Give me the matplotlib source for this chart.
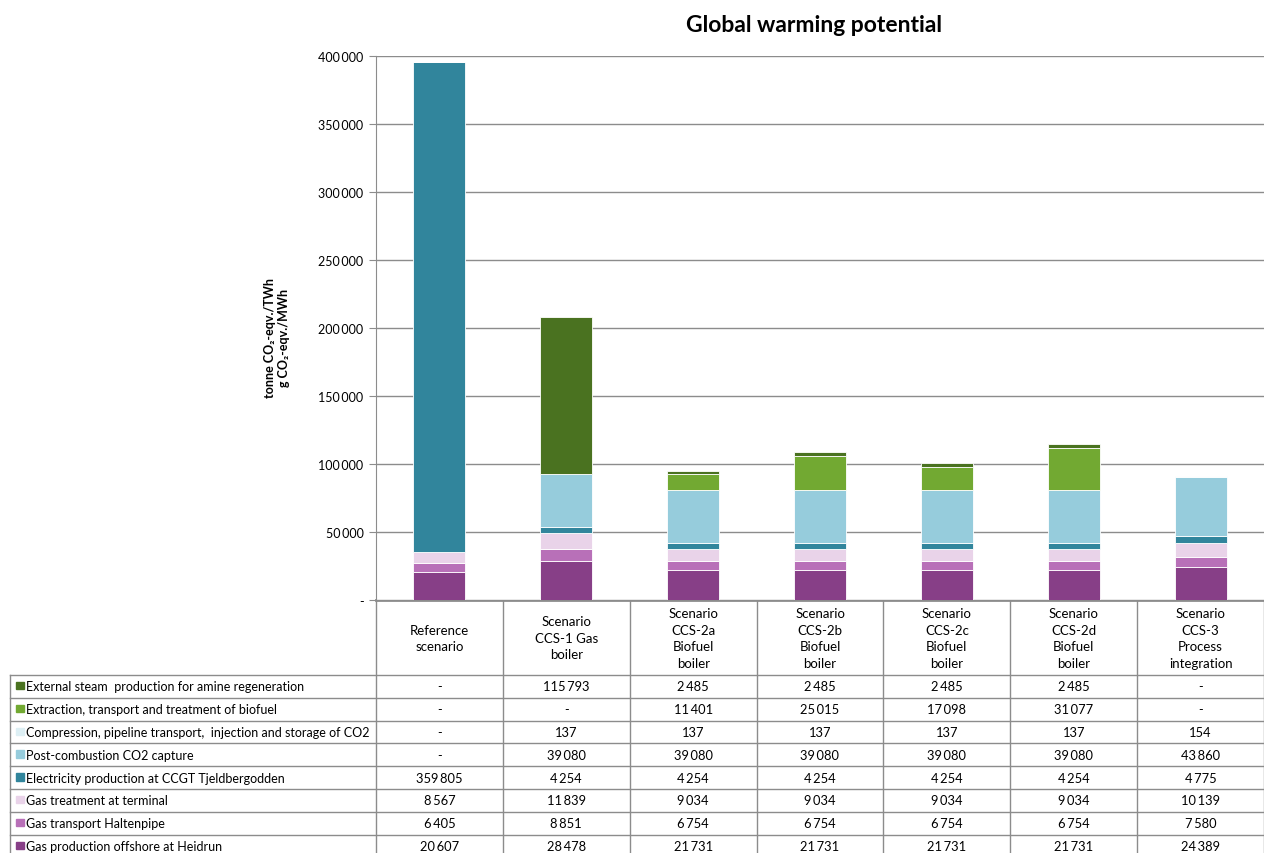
import matplotlib
matplotlib.use('Agg')
import matplotlib.pyplot as plt
import numpy as np

plt.rcParams['font.family'] = ['Lato', 'DejaVu Sans']

# Scenarios (columns)
scenarios = ['Reference\nscenario', 'Scenario\nCCS-1 Gas\nboiler',
             'Scenario\nCCS-2a\nBiofuel\nboiler', 'Scenario\nCCS-2b\nBiofuel\nboiler',
             'Scenario\nCCS-2c\nBiofuel\nboiler', 'Scenario\nCCS-2d\nBiofuel\nboiler',
             'Scenario\nCCS-3\nProcess\nintegration']

# Series, bottom of the stack first
gas_production = [20607, 28478, 21731, 21731, 21731, 21731, 24389]
gas_transport = [6405, 8851, 6754, 6754, 6754, 6754, 7580]
gas_treatment = [8567, 11839, 9034, 9034, 9034, 9034, 10139]
electricity = [359805, 4254, 4254, 4254, 4254, 4254, 4775]
co2_capture = [0, 39080, 39080, 39080, 39080, 39080, 43860]
co2_storage = [0, 137, 137, 137, 137, 137, 154]
biofuel = [0, 0, 11401, 25015, 17098, 31077, 0]
ext_steam = [0, 115793, 2485, 2485, 2485, 2485, 0]

series = [
    ('Gas production offshore at Heidrun', gas_production, '#873F87'),
    ('Gas transport Haltenpipe', gas_transport, '#B870B8'),
    ('Gas treatment at terminal', gas_treatment, '#E9D3E9'),
    ('Electricity production at CCGT Tjeldbergodden', electricity, '#31859C'),
    ('Post-combustion CO2 capture', co2_capture, '#96CCDC'),
    ('Compression, pipeline transport,  injection and storage of CO2', co2_storage, '#DDEFF4'),
    ('Extraction, transport and treatment of biofuel', biofuel, '#72A932'),
    ('External steam  production for amine regeneration', ext_steam, '#4A7220'),
]

W, H = 1264, 854
fig = plt.figure(figsize=(W / 100, H / 100), dpi=100)

# pixel layout
x0, x1 = 376, 1264
y_top, y_base = 57, 601
ax = fig.add_axes([x0 / W, (H - y_base) / H, (x1 - x0) / W, (y_base - y_top) / H])

n = len(scenarios)
xs = np.arange(n)
bottom = np.zeros(n)
for name, vals, col in series:
    ax.bar(xs, vals, bottom=bottom, width=0.41, color=col, edgecolor='white', linewidth=0.6, zorder=3)
    bottom += np.array(vals)

ax.set_xlim(-0.5, n - 0.5)
ax.set_ylim(0, 400000)
ax.set_yticks(np.arange(0, 400001, 50000))

def fmt(v):
    v = int(round(v))
    if v == 0:
        return '-'
    return f'{v:,}'.replace(',', '\u2009')

ax.set_yticklabels([fmt(v) for v in ax.get_yticks()], fontsize=9)
ax.set_xticks([])
ax.grid(axis='y', color='#8c8c8c', linewidth=1.0, zorder=0)
for s in ['top', 'right', 'bottom']:
    ax.spines[s].set_visible(False)
ax.spines['left'].set_color('#8c8c8c')
ax.tick_params(axis='y', length=5, color='#8c8c8c', pad=4)

fig.text(814 / W, 1 - 25 / H, 'Global warming potential', ha='center', va='center',
         fontsize=16.5, fontweight='bold')
fig.text(277 / W, 1 - 338 / H, 'tonne CO\u2082-eqv./TWh\ng CO\u2082-eqv./MWh', ha='center',
         va='center', rotation=90, fontsize=9, fontweight='bold', linespacing=1.1)

# table drawn in pixel space
tb = fig.add_axes([0, 0, 1, 1], zorder=-1)
tb.set_xlim(0, W)
tb.set_ylim(H, 0)
tb.axis('off')
lc = '#8c8c8c'
colw = (x1 - x0) / n
row_top = 676
row_h = 22.8
tb.plot([x0, x1], [y_base, y_base], color=lc, lw=2)
for i in range(n + 1):
    xv = x0 + i * colw
    tb.plot([xv, xv], [y_base, H], color=lc, lw=1)
tb.plot([10, 10], [row_top, H], color=lc, lw=1)
rows = series[::-1]
for r in range(len(rows) + 1):
    yv = row_top + r * row_h
    tb.plot([10, x1], [yv, yv], color=lc, lw=1)
for i, lab in enumerate(scenarios):
    tb.text(x0 + (i + 0.5) * colw, 639, lab, ha='center', va='center', fontsize=9.5, linespacing=1.45)
for r, (name, vals, col) in enumerate(rows):
    yc = row_top + (r + 0.5) * row_h
    tb.add_patch(plt.Rectangle((16, yc - 4.5), 7.5, 7.5, color=col))
    tb.text(26, yc, name, ha='left', va='center', fontsize=9)
    for i, v in enumerate(vals):
        tb.text(x0 + (i + 0.5) * colw, yc, fmt(v), ha='center', va='center', fontsize=9.3)

fig.savefig('out.png', dpi=100)
